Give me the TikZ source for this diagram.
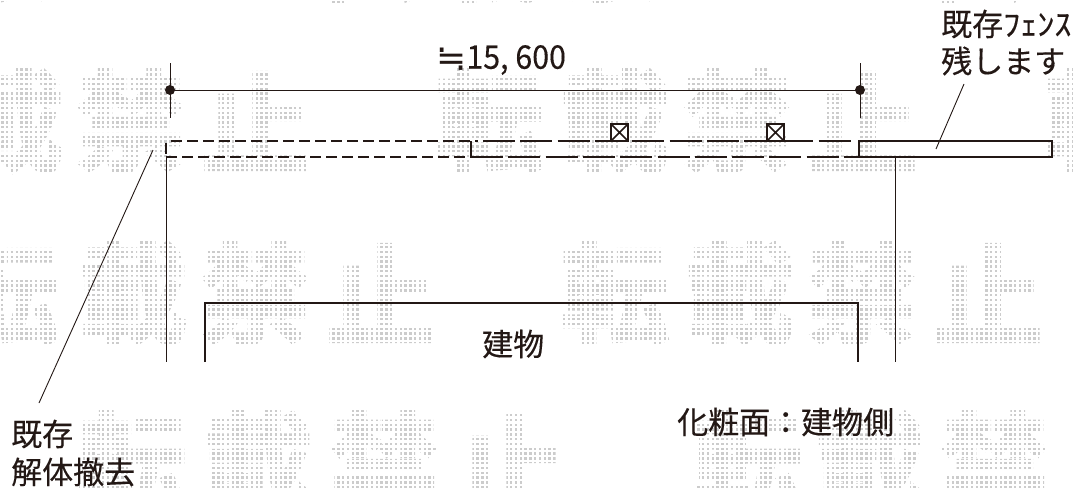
\documentclass[tikz,border=0pt]{standalone}
\usepackage{fontspec}
\usepackage{graphicx}
\setmainfont{Noto Sans CJK JP}[FakeBold=0.25]
\newfontfamily\wmfont{Noto Sans CJK JP Bold}[FakeBold=2.2]
\newfontfamily\symfont{DejaVu Sans}
\definecolor{ink}{HTML}{231815}
\tikzset{
  wmark/.style={inner sep=0pt,text=black!20,font=\wmfont\fontsize{110}{110}\selectfont},
  lbl/.style={inner sep=0pt,anchor=west,text=ink,font=\fontsize{31}{31}\selectfont},
  thick line/.style={draw=ink,line width=2.5pt},
  thin line/.style={draw=ink,line width=0.9pt},
  wide dash/.style={thick line,dash pattern=on 32pt off 5.3pt},
  short dash/.style={thick line,dash pattern=on 11pt off 5pt},
  marker/.style={thick line,fill=white},
  dim dot/.style={circle,fill=ink,inner sep=0pt,minimum size=10pt}
}
\begin{document}
\begin{tikzpicture}[x=1pt,y=-1pt]
\useasboundingbox (0,0) rectangle (1073,490);
\begin{scope}
\clip (0,0) rectangle (1073,490);
% watermark rows
\node[wmark] (a1) at (-120,-50) {載};
\node[wmark] (a2) at (5,-50) {禁};
\node[wmark] (a3) at (365,-50) {転};
\node[wmark] (a4) at (490,-50) {載};
\node[wmark] (a5) at (612,-50) {禁};
\node[wmark] (a6) at (974,-50) {転};
\node[wmark] (b1) at (9,121) {載};
\node[wmark] (b2) at (130,121) {禁};
\node[wmark] (b3) at (256,121) {止};
\node[wmark] (b4) at (490,121) {転};
\node[wmark] (b5) at (615,121) {載};
\node[wmark] (b6) at (737,121) {禁};
\node[wmark] (b7) at (863,121) {止};
\node[wmark] (b8) at (1099,121) {転};
\node[wmark] (c1) at (5,293) {転};
\node[wmark] (c2) at (133,293) {載};
\node[wmark] (c3) at (255,293) {禁};
\node[wmark] (c4) at (381,293) {止};
\node[wmark] (c5) at (615,293) {転};
\node[wmark] (c6) at (740,293) {載};
\node[wmark] (c7) at (862,293) {禁};
\node[wmark] (c8) at (988,293) {止};
\node[wmark] (d1) at (132,463) {転};
\node[wmark] (d2) at (258,463) {載};
\node[wmark] (d3) at (384,463) {禁};
\node[wmark] (d4) at (510,463) {止};
\node[wmark] (d5) at (748,463) {転};
\node[wmark] (d6) at (870,463) {載};
\node[wmark] (d7) at (994,463) {禁};
% screen that breaks the watermark into dots
\foreach \i in {0,...,224} \draw[white,line width=2.5pt] (\i*4.8,0) -- (\i*4.8,490);
\foreach \j in {0,...,103} \draw[white,line width=2.5pt] (0,\j*4.8) -- (1073,\j*4.8);
\end{scope}
% named points
\coordinate (dimL) at (170,90);
\coordinate (dimR) at (860,90);
\coordinate (tickLt) at (170,63);
\coordinate (tickLb) at (170,118);
\coordinate (tickRt) at (860,63);
\coordinate (tickRb) at (860,118);
% dimension
\draw[thin line] (dimL) -- (dimR);
\draw[thin line] (tickLt) -- (tickLb);
\draw[thin line] (tickRt) -- (tickRb);
\node[dim dot] (dotL) at (dimL) {};
\node[dim dot] (dotR) at (dimR) {};
% removed fence (short dashes)
\draw[short dash] (171,141) -- (478,141);
\draw[short dash] (166,157) -- (471,157);
\draw[thick line] (166,143) -- (166,154);
% new fence (long dashes)
\draw[thick line] (471,141) -- (471,157);
\draw[wide dash] (483,141) -- (852,141);
\draw[wide dash] (471,157) -- (859,157);
% gate markers
\draw[marker] (611,124) rectangle (628,141);
\draw[thick line,line width=1.6pt] (611,124) -- (628,141) (611,141) -- (628,124);
\draw[marker] (767,124) rectangle (784,141);
\draw[thick line,line width=1.6pt] (767,124) -- (784,141) (767,141) -- (784,124);
% existing fence
\draw[thick line] (859,141) rectangle (1052,157);
% extension lines
\draw[thin line] (166,157) -- (166,362);
\draw[thin line] (895,157) -- (895,362);
% building
\draw[thick line] (205,362) -- (205,303) -- (858,303) -- (858,362);
% leaders
\coordinate (leadAa) at (964,84);
\coordinate (leadAb) at (936,149);
\coordinate (leadBa) at (153,150);
\coordinate (leadBb) at (39,403);
\draw[thin line] (leadAa) -- (leadAb);
\draw[thin line] (leadBa) -- (leadBb);
% labels
\node[lbl] (dimtext) at (436,60) {\raisebox{-2pt}{\symfont\fontsize{36}{36}\selectfont ≒}\scalebox{0.98}[1.05]{15, 600}};
\node[lbl] (fence1) at (941,24) {既存\scalebox{1.1}[1]{ﾌｪﾝｽ}};
\node[lbl] (fence2) at (941,61) {残します};
\node[lbl] (bldg) at (482,344) {建物};
\node[lbl] (exist1) at (11,434) {既存};
\node[lbl] (exist2) at (11,472) {解体撤去};
\node[lbl] (finish) at (677,422) {化粧面：建物側};
\end{tikzpicture}
\end{document}
